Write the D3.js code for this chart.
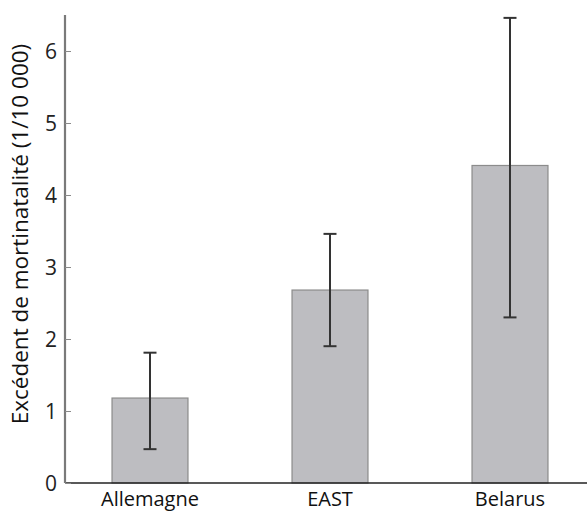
<!DOCTYPE html>
<html><head><meta charset="utf-8">
<script src="https://cdn.jsdelivr.net/npm/d3@7"></script>
<style>body{margin:0;background:#fff}svg{display:block}text{font-family:"Open Sans","Noto Sans",sans-serif;fill:#111}</style>
</head><body><svg id="c" width="587" height="513"></svg>
<script>
const categories = ["Allemagne", "EAST", "Belarus"];
const values = [1.18, 2.68, 4.41];
const errLow = [0.47, 1.90, 2.30];
const errHigh = [1.81, 3.46, 6.46];
const yTicks = [0, 1, 2, 3, 4, 5, 6];
const yLabel = "Excédent de mortinatalité (1/10 000)";

const svg = d3.select("#c");
const x = d3.scaleBand().domain(categories).range([60, 600]).paddingInner(0.578).paddingOuter(0.289);
const y = d3.scaleLinear().domain([0, 6.5]).range([483, 15]);

// bars
svg.selectAll("rect.bar").data(categories).join("rect")
  .attr("x", d => x(d)).attr("width", x.bandwidth())
  .attr("y", (d, i) => y(values[i])).attr("height", (d, i) => y(0) - y(values[i]))
  .attr("fill", "#bdbdc1").attr("stroke", "#8c8c8c").attr("stroke-width", 1.2);

// error bars
const eb = svg.append("g").attr("stroke", "#333").attr("stroke-width", 2);
categories.forEach((c, i) => {
  const cx = x(c) + x.bandwidth() / 2;
  eb.append("line").attr("x1", cx).attr("x2", cx).attr("y1", y(errLow[i])).attr("y2", y(errHigh[i]));
  eb.append("line").attr("x1", cx - 6.5).attr("x2", cx + 6.5).attr("y1", y(errLow[i])).attr("y2", y(errLow[i]));
  eb.append("line").attr("x1", cx - 6.5).attr("x2", cx + 6.5).attr("y1", y(errHigh[i])).attr("y2", y(errHigh[i]));
});

// x baseline
svg.append("line").attr("x1", 65).attr("x2", 587).attr("y1", y(0)).attr("y2", y(0)).attr("stroke", "#222").attr("stroke-width", 1.3);

// y axis
const yAxis = svg.append("g").attr("transform", "translate(65,0)")
  .call(d3.axisRight(y).tickValues(yTicks).tickSize(6).tickFormat(d3.format("d")));
yAxis.select(".domain").attr("stroke", "#7a7a7a").attr("stroke-width", 2.2).attr("d", `M0,${y(6.5)}V${y(0)}`);
yAxis.selectAll(".tick line").attr("stroke", "#8a8a8a").attr("stroke-width", 1);
yAxis.selectAll(".tick text").attr("x", -8).attr("text-anchor", "end").attr("dy", "0.36em")
  .style("font-size", "21px").style("fill", "#222");

// x labels
svg.selectAll("text.xl").data(categories).join("text")
  .attr("x", d => x(d) + x.bandwidth() / 2).attr("y", 506)
  .attr("text-anchor", "middle").style("font-size", "20px").style("fill", "#111").text(d => d);

// y label
svg.append("text").attr("transform", "translate(28,234) rotate(-90)")
  .attr("text-anchor", "middle").style("font-size", "22.5px").style("fill", "#111").text(yLabel);
</script></body></html>
